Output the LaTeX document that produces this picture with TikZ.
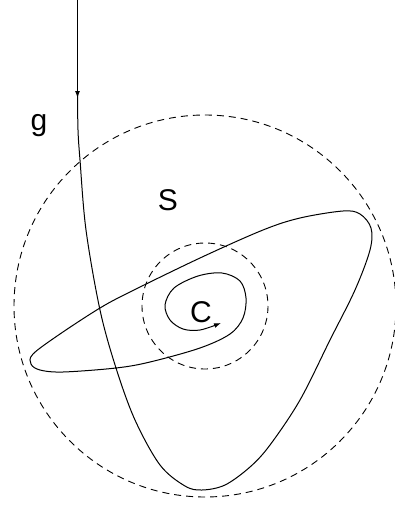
\documentclass[tikz,border=0pt]{standalone}
\usepackage{fontspec}
\setmainfont{Liberation Sans}
\usetikzlibrary{arrows.meta}
\tikzset{
  dashcircle/.style={draw, line width=0.9pt, dash pattern=on 7pt off 5pt},
  curve/.style={draw, line width=1pt},
  lbl/.style={inner sep=0pt, anchor=base, font=\fontsize{30}{36}\selectfont},
  tip/.style={-{Latex[length=7pt,width=5pt]}}
}
\begin{document}
\begin{tikzpicture}[x=1pt,y=-1pt]
\useasboundingbox (0,0) rectangle (394,506);
\coordinate (O) at (205,306);
\draw[dashcircle] (O) circle[radius=191];
\draw[dashcircle] (O) circle[radius=63];
\coordinate (top) at (77.5,0);
\coordinate (mid) at (77.5,98);
\draw[curve,tip] (top) -- (mid);
\draw[curve,tip] plot[smooth, tension=0.55] coordinates {
 (77.5,92) (78,130) (80,160) (86,230) (100,310) (116,368) (135,420) (160,465)
 (185,486) (202,490) (225,485) (250,467) (270,445) (300,400) (330,340)
 (355,290) (370,250) (371,228) (360,214) (343,211) (300,218) (263,230)
 (200,258) (130,292) (100,308) (60,334) (33,354) (31,364) (40,370) (63,372)
 (116,368) (150,362) (200,348) (230,334) (243,318) (246,298) (240,281)
 (222,273) (198,276) (174,288) (165,305) (170,320) (183,329) (200,330) (221,323)};
\node[lbl] (g) at (39,130) {g};
\node[lbl] (S) at (168,210) {S};
\node[lbl] (C) at (201,322) {C};
\end{tikzpicture}
\end{document}
